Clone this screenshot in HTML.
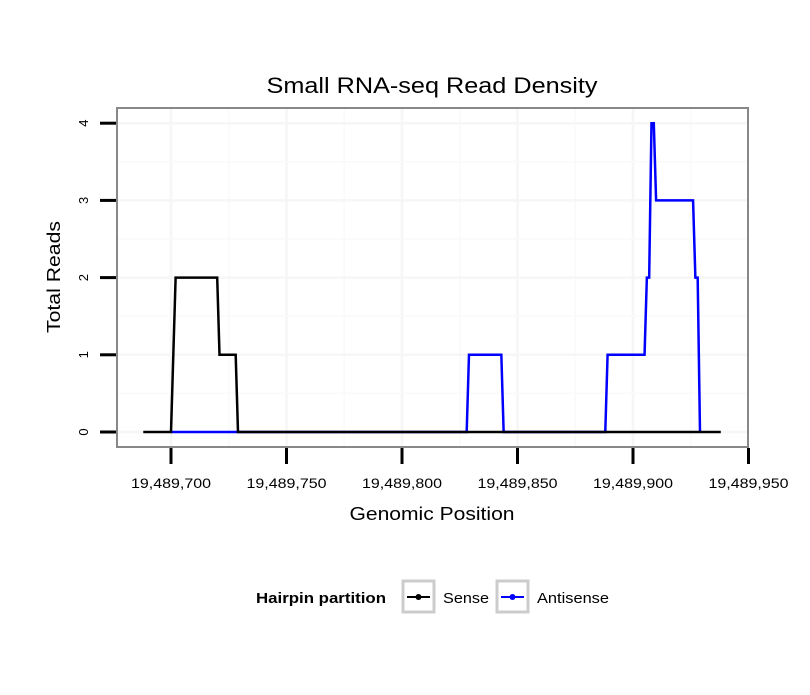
<!DOCTYPE html>
<html><head><meta charset="utf-8"><style>
body{margin:0;background:#fff;font-family:"Liberation Sans",sans-serif}
</style></head><body>
<svg width="810" height="690" xmlns="http://www.w3.org/2000/svg" font-family="Liberation Sans, sans-serif">
<rect width="810" height="690" fill="#fff"/>
<text x="432" y="93" text-anchor="middle" font-size="22" textLength="331" lengthAdjust="spacingAndGlyphs">Small RNA-seq Read Density</text>
<g id="grid"></g>
<rect x="117" y="108" width="631" height="339" fill="none" stroke="#888" stroke-width="2"/>
<g id="series"></g>
<g id="axes"></g>
<text x="432" y="520" text-anchor="middle" font-size="18.5" textLength="165" lengthAdjust="spacingAndGlyphs">Genomic Position</text>
<text transform="translate(60,277) rotate(-90)" text-anchor="middle" font-size="18.5" textLength="112" lengthAdjust="spacingAndGlyphs">Total Reads</text>
<g>
<text x="256" y="603" font-size="15" font-weight="bold" textLength="130" lengthAdjust="spacingAndGlyphs">Hairpin partition</text>
<g>
<rect x="403" y="581" width="31" height="31" fill="#fff" stroke="#ccc" stroke-width="3"/>
<line x1="407" y1="597" x2="430" y2="597" stroke="#000" stroke-width="2"/><circle cx="418.5" cy="597" r="3" fill="#000"/>
<text x="443" y="603" font-size="15" textLength="46" lengthAdjust="spacingAndGlyphs">Sense</text></g>
<g>
<rect x="497" y="581" width="31" height="31" fill="#fff" stroke="#ccc" stroke-width="3"/>
<line x1="501" y1="597" x2="524" y2="597" stroke="#00f" stroke-width="2"/><circle cx="512.5" cy="597" r="3" fill="#00f"/>
<text x="537" y="603" font-size="15" textLength="72" lengthAdjust="spacingAndGlyphs">Antisense</text></g>
</g>
</svg>
<script>
const xTicks=[19489700,19489750,19489800,19489850,19489900,19489950];
const xTickLabels=["19,489,700","19,489,750","19,489,800","19,489,850","19,489,900","19,489,950"];
const yTicks=[0,1,2,3,4];
const senseX=[19489688,19489700,19489702,19489720,19489721,19489728,19489729,19489938];
const senseY=[0,0,2,2,1,1,0,0];
const antiX=[19489700,19489828,19489829,19489843,19489844,19489888,19489889,19489905,19489906,19489907,19489908,19489909,19489910,19489926,19489927,19489928,19489929];
const antiY=[0,0,1,1,0,0,1,1,2,2,4,4,3,3,2,2,0];
const sx=v=>171+(v-19489700)*2.31;
const sy=v=>432-v*77.2;
const NS="http://www.w3.org/2000/svg";
function mk(t,a,p){const e=document.createElementNS(NS,t);for(const k in a)e.setAttribute(k,a[k]);p.appendChild(e);return e;}
const grid=document.getElementById('grid'),axes=document.getElementById('axes'),ser=document.getElementById('series');
for(let i=0;i<xTicks.length;i++){const x=sx(xTicks[i]);
 if(x<748){const g=mk('line',{x1:x,x2:x,y1:108,y2:447,stroke:'#f6f6f6','stroke-width':2.5},grid);}
 const mx=sx(xTicks[i]+25);if(mx<748){const g=mk('line',{x1:mx,x2:mx,y1:108,y2:447,stroke:'#fafafa','stroke-width':1.5},grid);}
 const t=mk('line',{x1:x,x2:x,y1:448,y2:464,stroke:'#000','stroke-width':3},axes);
 const l=mk('text',{x:x,y:488,'text-anchor':'middle','font-size':14,textLength:80,lengthAdjust:'spacingAndGlyphs'},axes);l.textContent=xTickLabels[i];}
for(let i=0;i<yTicks.length;i++){const y=sy(yTicks[i]);
 const g=mk('line',{x1:117,x2:748,y1:y,y2:y,stroke:'#f6f6f6','stroke-width':2.5},grid);
 if(i<yTicks.length-1){const my=sy(yTicks[i]+0.5);const m=mk('line',{x1:117,x2:748,y1:my,y2:my,stroke:'#fafafa','stroke-width':1.5},grid);}
 const t=mk('line',{x1:100,x2:116,y1:y,y2:y,stroke:'#000','stroke-width':3},axes);
 const l=mk('text',{x:0,y:0,'text-anchor':'middle','font-size':13,transform:`translate(88,${y}) rotate(-90)`},axes);l.textContent=yTicks[i];}
function line(X,Y,c,n){const p=mk('polyline',{points:X.map((v,i)=>sx(v)+','+sy(Y[i])).join(' '),fill:'none',stroke:c,'stroke-width':2.5,'stroke-linejoin':'miter'},ser);}
line(antiX,antiY,'#00f','antisense-line');
line(senseX,senseY,'#000','sense-line');
</script>
</body></html>
